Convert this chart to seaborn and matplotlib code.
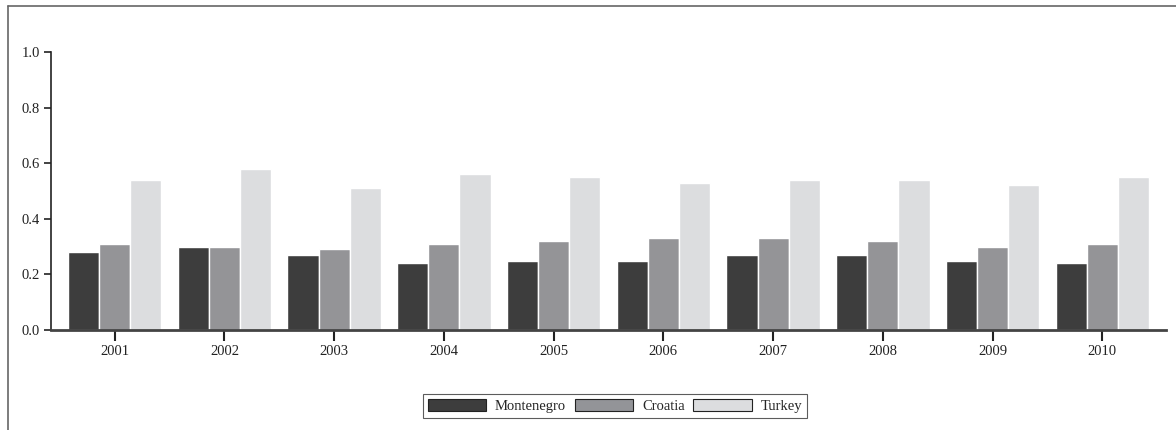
import matplotlib
matplotlib.use("Agg")
import matplotlib.pyplot as plt
from matplotlib.lines import Line2D
import seaborn as sns
import pandas as pd

years = ['2001', '2002', '2003', '2004', '2005', '2006', '2007', '2008', '2009', '2010']
montenegro = [0.28, 0.30, 0.27, 0.24, 0.25, 0.25, 0.27, 0.27, 0.25, 0.24]
croatia = [0.31, 0.30, 0.29, 0.31, 0.32, 0.33, 0.33, 0.32, 0.30, 0.31]
turkey = [0.54, 0.58, 0.51, 0.56, 0.55, 0.53, 0.54, 0.54, 0.52, 0.55]
countries = ['Montenegro', 'Croatia', 'Turkey']
colors = ['#3d3d3d', '#939498', '#dcdddf']

df = pd.DataFrame({
    'Year': years * 3,
    'Value': montenegro + croatia + turkey,
    'Country': [c for c in countries for _ in years],
})

sns.set_style("white")
plt.rcParams['font.family'] = ['Liberation Serif', 'DejaVu Serif']

fig = plt.figure(figsize=(11.76, 4.30), dpi=100)
ax = fig.add_axes([51 / 1176, 1 - 330 / 430, (1166 - 51) / 1176, (330 - 52) / 430])

sns.barplot(data=df, x='Year', y='Value', hue='Country', palette=colors,
            width=0.85, edgecolor='white', linewidth=1, ax=ax, legend=False)

ax.set_xlim(-0.58, 9.58)
ax.set_ylim(0, 1.0)
ax.set_yticks([0.0, 0.2, 0.4, 0.6, 0.8, 1.0])
ax.set_yticklabels(['0.0', '0.2', '0.4', '0.6', '0.8', '1.0'])
ax.set_xlabel('')
ax.set_ylabel('')

for side in ['top', 'right']:
    ax.spines[side].set_visible(False)
ax.spines['left'].set_color('#222222')
ax.spines['left'].set_linewidth(1.2)
ax.spines['bottom'].set_color('#444444')
ax.spines['bottom'].set_linewidth(2)
ax.tick_params(axis='y', left=True, length=5, width=1.2, color='#222222',
               labelsize=10.5, pad=3, labelcolor='#222222')
ax.tick_params(axis='x', bottom=True, length=8, width=1.5, color='#222222',
               labelsize=10.5, pad=3, labelcolor='#222222')

# legend under the plot
handles = [plt.Rectangle((0, 0), 1, 1, facecolor=c, edgecolor='#222222', linewidth=0.8)
           for c in colors]
leg = fig.legend(handles, countries, loc='center', bbox_to_anchor=(615 / 1176, 1 - 406 / 430),
                 ncol=3, frameon=True, fancybox=False, fontsize=10.5,
                 handlelength=4.0, handleheight=0.85, handletextpad=0.6,
                 columnspacing=0.6, borderpad=0.35)
leg.get_frame().set_edgecolor('#333333')
leg.get_frame().set_linewidth(0.8)

# figure frame: top and left lines
fig.add_artist(Line2D([8 / 1176, 1.0], [1 - 6 / 430, 1 - 6 / 430], color='#666666', linewidth=1.2))
fig.add_artist(Line2D([8 / 1176, 8 / 1176], [0.0, 1 - 6 / 430], color='#666666', linewidth=1.2))

fig.savefig('out.png', dpi=100)
